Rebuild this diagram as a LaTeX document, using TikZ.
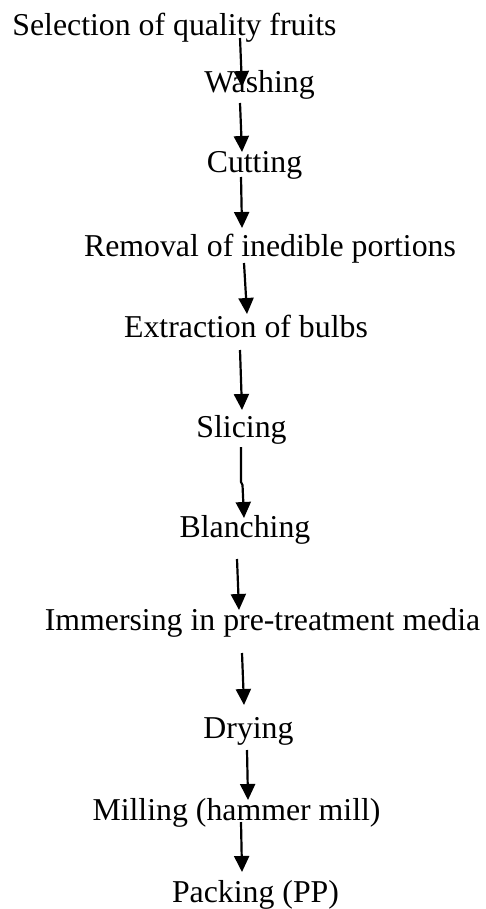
\documentclass[tikz,border=0pt]{standalone}
\usepackage{fontspec}
\setmainfont{Liberation Serif}
\usepackage{tikz}
\usetikzlibrary{arrows.meta}

\tikzset{
  stage/.style={anchor=base, inner sep=0pt, font=\fontsize{18.1}{21}\selectfont},
  flow/.style={line width=1.25pt, -{Triangle[length=0.32cm, width=0.30cm]}}
}

\begin{document}
\begin{tikzpicture}[x=0.02cm, y=-0.02cm]
  \useasboundingbox (0,0) rectangle (485,909);
  %% Process steps
  \node[stage] (sel)  at (174.5,36)  {Selection of quality fruits};
  \node[stage] (wash) at (259.5,92)  {Washing};
  \node[stage] (cut)  at (254.5,173) {Cutting};
  \node[stage] (rem)  at (270,256)   {Removal of inedible portions};
  \node[stage] (ext)  at (246,337)   {Extraction of bulbs};
  \node[stage] (slic) at (241.5,437) {Slicing};
  \node[stage] (blan) at (245,537)   {Blanching};
  \node[stage] (imm)  at (262.5,630) {Immersing in pre-treatment media};
  \node[stage] (dry)  at (248.5,738) {Drying};
  \node[stage] (mill) at (236.5,820) {Milling (hammer mill)};
  \node[stage] (pack) at (255.5,902) {Packing (PP)};
  %% Arrows between steps (hand-placed, slightly slanted)
  \draw[flow] ([shift={(65.5,2)}]sel.base)   -- ([shift={(-17.5,-5)}]wash.base);
  \draw[flow] ([shift={(-19.5,11)}]wash.base) -- ([shift={(-12.5,-21)}]cut.base);
  \draw[flow] ([shift={(-13.5,4)}]cut.base)   -- ([shift={(-28,-28)}]rem.base);
  \draw[flow] ([shift={(-26,7)}]rem.base)     -- ([shift={(1,-23)}]ext.base);
  \draw[flow] ([shift={(-6,13)}]ext.base)     -- ([shift={(0.5,-27)}]slic.base);
  %% this one has a small kink
  \draw[flow] ([shift={(-0.5,10)}]slic.base) -- ++(0,35) -- ++(1.5,3) -- ([shift={(-1,-19)}]blan.base);
  \draw[flow] ([shift={(-8,22)}]blan.base)    -- ([shift={(-23.5,-20)}]imm.base);
  \draw[flow] ([shift={(-20.5,23)}]imm.base)  -- ([shift={(-4.5,-33)}]dry.base);
  \draw[flow] ([shift={(-1.5,12)}]dry.base)   -- ([shift={(11.5,-20)}]mill.base);
  \draw[flow] ([shift={(4.5,2)}]mill.base)    -- ([shift={(-13.5,-30)}]pack.base);
\end{tikzpicture}
\end{document}
